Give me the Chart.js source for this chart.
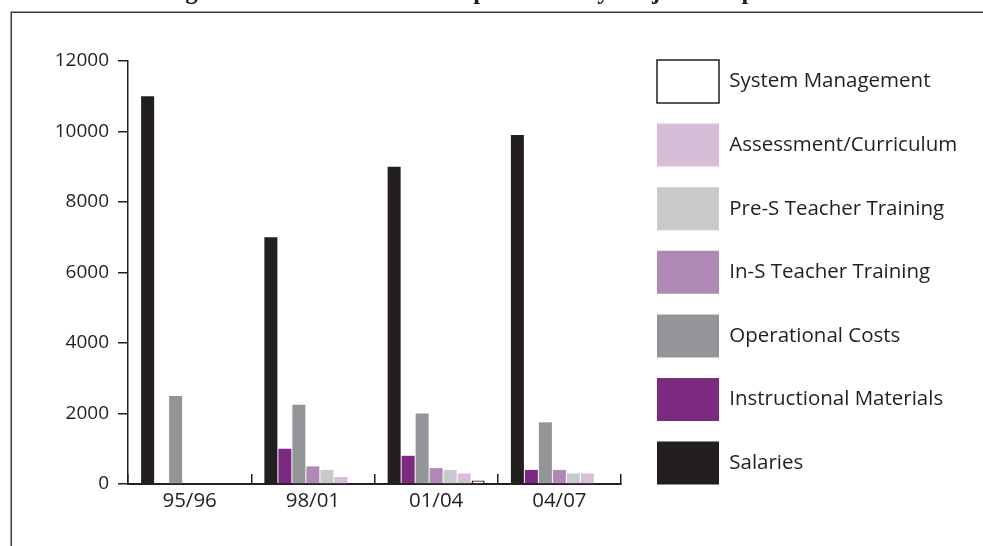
<!DOCTYPE html>
<html>
<head>
<meta charset="utf-8">
<script src="https://cdn.jsdelivr.net/npm/chart.js@4.4.1/dist/chart.umd.min.js"></script>
<style>
  html, body { margin: 0; padding: 0; background: #ffffff; overflow: hidden; }
  #wrap { position: relative; width: 983px; height: 546px; }
  canvas { display: block; }
</style>
</head>
<body>
<div id="wrap"><canvas id="chart" width="983" height="546"></canvas></div>
<script>
// Periods on the x axis
const categories = ['95/96', '98/01', '01/04', '04/07'];

// Expenditure per component, one array per series
const salaries = [11000, 7000, 9000, 9900];
const instructionalMaterials = [0, 1000, 800, 400];
const operationalCosts = [2500, 2250, 2000, 1750];
const inServiceTraining = [0, 500, 450, 400];
const preServiceTraining = [0, 400, 400, 300];
const assessmentCurriculum = [0, 200, 300, 300];
const systemManagement = [0, 0, 100, 0];

// Value axis ticks
const yTicks = [0, 2000, 4000, 6000, 8000, 10000, 12000];

const titleText = 'Change in Total Government Expenditure by Major Component';

const INK = '#231f20';
const FONT = '"Open Sans", "Noto Sans", sans-serif';
const LEGEND_SIZE = 20.5;

const series = [
  { label: 'Salaries', data: salaries, color: INK },
  { label: 'Instructional Materials', data: instructionalMaterials, color: '#7b2a80' },
  { label: 'Operational Costs', data: operationalCosts, color: '#939598' },
  { label: 'In-S Teacher Training', data: inServiceTraining, color: '#b088b6' },
  { label: 'Pre-S Teacher Training', data: preServiceTraining, color: '#c8c9cb' },
  { label: 'Assessment/Curriculum', data: assessmentCurriculum, color: '#d6bed9' },
  { label: 'System Management', data: systemManagement, color: '#ffffff', border: INK }
];

// Layout geometry
const PLOT_LEFT = 128, PLOT_TOP = 61, PLOT_BOTTOM = 484, PLOT_RIGHT = 621;
const SWATCH_W = 62, SWATCH_H = 43, LEGEND_GAP = 20.6, SWATCH_LEFT = 657;

// Measure the widest legend entry so the legend column lands where intended
const measureCtx = document.createElement('canvas').getContext('2d');
measureCtx.font = LEGEND_SIZE + 'px ' + FONT;
const widestLabel = Math.max(...series.map(s => measureCtx.measureText(s.label).width));
const legendWidth = SWATCH_W + LEGEND_SIZE / 2 + widestLabel + LEGEND_GAP + 10;
const legendLeft = SWATCH_LEFT - LEGEND_GAP;
const rightPad = Math.max(0, 983 - legendLeft - legendWidth);
const topPad = 60 - LEGEND_GAP;

const framePlugin = {
  id: 'frame',
  beforeDraw(chart) {
    const ctx = chart.ctx;
    ctx.save();
    ctx.fillStyle = '#ffffff';
    ctx.fillRect(0, 0, chart.width, chart.height);
    ctx.strokeStyle = '#3a3a3a';
    ctx.lineWidth = 1.5;
    ctx.strokeRect(11.25, 12.25, chart.width + 40, chart.height + 40);
    ctx.restore();
  }
};

const titlePlugin = {
  id: 'headline',
  afterDraw(chart) {
    const ctx = chart.ctx;
    ctx.save();
    ctx.fillStyle = INK;
    ctx.font = 'bold 25px "Liberation Serif", "DejaVu Serif", serif';
    ctx.textAlign = 'left';
    ctx.textBaseline = 'alphabetic';
    ctx.fillText(titleText, 127, -1);
    ctx.restore();
  }
};

new Chart(document.getElementById('chart'), {
  type: 'bar',
  data: {
    labels: categories,
    datasets: series.map(s => ({
      label: s.label,
      data: s.data,
      backgroundColor: s.color,
      borderColor: s.border || s.color,
      borderWidth: s.border ? 1.5 : 0,
      categoryPercentage: 0.795,
      barPercentage: 0.93,
      yAxisID: 'y'
    }))
  },
  options: {
    responsive: false,
    animation: false,
    devicePixelRatio: 1,
    layout: { padding: { top: topPad, left: 0, right: rightPad, bottom: 0 } },
    plugins: {
      title: { display: false },
      tooltip: { enabled: false },
      legend: {
        position: 'right',
        align: 'start',
        reverse: true,
        maxWidth: 420,
        labels: {
          boxWidth: SWATCH_W,
          boxHeight: SWATCH_H,
          padding: LEGEND_GAP,
          color: INK,
          font: { family: FONT, size: LEGEND_SIZE }
        }
      }
    },
    scales: {
      x: {
        type: 'category',
        offset: true,
        grid: {
          display: true,
          offset: true,
          drawOnChartArea: false,
          drawTicks: true,
          tickLength: -10,
          color: INK,
          lineWidth: 1.5
        },
        border: { display: true, color: INK, width: 2 },
        ticks: {
          color: INK,
          padding: 15,
          font: { family: FONT, size: 20.5 },
          maxRotation: 0
        },
        afterFit(scale) {
          scale.height = 546 - PLOT_BOTTOM;
          scale.paddingLeft = 0;
          scale.paddingRight = 0;
        }
      },
      y: {
        type: 'linear',
        position: 'left',
        min: 0,
        max: 12000,
        afterBuildTicks(scale) {
          scale.ticks = yTicks.map(v => ({ value: v }));
        },
        grid: {
          display: true,
          drawOnChartArea: false,
          drawTicks: true,
          tickLength: 10,
          color: INK,
          lineWidth: 1.5
        },
        border: { display: true, color: INK, width: 1.5 },
        ticks: {
          color: INK,
          padding: 9,
          font: { family: FONT, size: 19 },
          callback: v => String(v)
        },
        afterFit(scale) {
          scale.width = PLOT_LEFT;
          scale.paddingTop = PLOT_TOP;
          scale.paddingBottom = 0;
        }
      },
      gap: {
        type: 'linear',
        position: 'right',
        display: true,
        grid: { display: false, drawTicks: false },
        border: { display: false },
        ticks: { display: false },
        afterFit(scale) {
          scale.width = legendLeft - PLOT_RIGHT;
          scale.paddingTop = 0;
          scale.paddingBottom = 0;
        }
      }
    }
  },
  plugins: [framePlugin, titlePlugin]
});
</script>
</body>
</html>
